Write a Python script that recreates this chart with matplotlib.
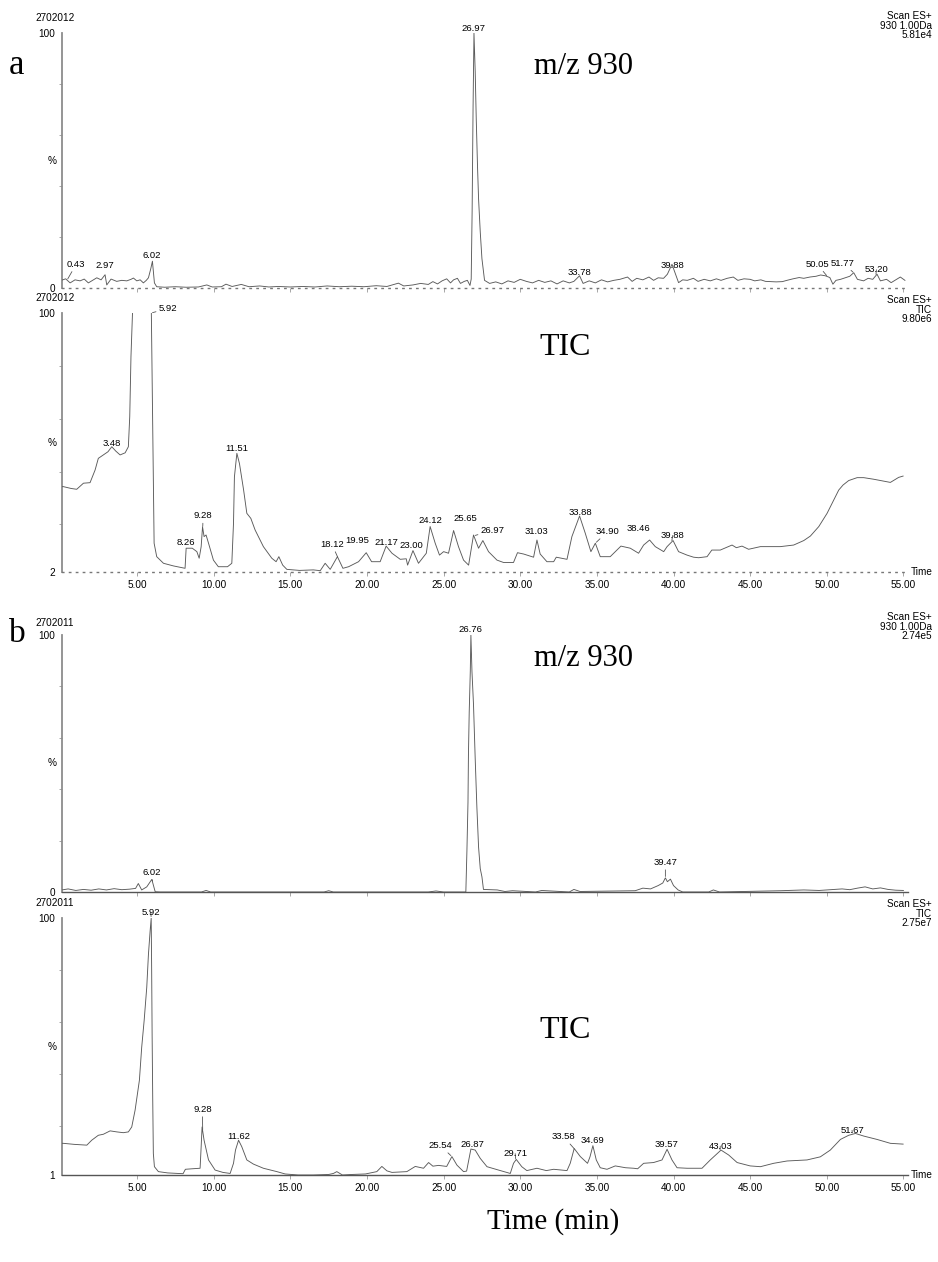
import numpy as np
import matplotlib
matplotlib.use("Agg")
import matplotlib.pyplot as plt

# ---------------- data ----------------
# a) m/z 930 extracted ion chromatogram (% of 5.81e4)
a930_t = [0.05, 0.34, 0.63, 0.95, 1.28, 1.55, 1.82, 2.1, 2.37, 2.65, 2.91, 3.02, 3.3, 3.67, 4.0,
          4.33, 4.6, 4.76, 4.98, 5.2, 5.41, 5.6, 5.74, 5.89, 6.0, 6.13, 6.28, 6.8, 7.5, 8.2, 9.0,
          9.55, 9.9, 10.5, 10.8, 11.2, 11.8, 12.3, 13.0, 13.6, 14.2, 15.0, 15.8, 16.6, 17.4, 18.2,
          19.0, 19.8, 20.6, 21.3, 22.05, 22.4, 23.0, 23.5, 24.0, 24.3, 24.6, 24.9, 25.2, 25.45,
          25.65, 25.9, 26.1, 26.35, 26.55, 26.72, 26.8, 26.86, 26.92, 26.98, 27.06, 27.13, 27.21,
          27.28, 27.39, 27.5, 27.67, 28.0, 28.4, 28.8, 29.2, 29.6, 30.0, 30.4, 30.8, 31.2, 31.6,
          32.0, 32.4, 32.8, 33.2, 33.5, 33.87, 34.1, 34.5, 34.9, 35.3, 35.7, 36.1, 36.5, 37.0,
          37.3, 37.6, 38.0, 38.4, 38.7, 39.0, 39.35, 39.6, 39.9, 40.1, 40.33, 40.6, 40.9, 41.3,
          41.6, 42.0, 42.4, 42.8, 43.1, 43.5, 43.9, 44.2, 44.6, 45.0, 45.3, 45.7, 46.0, 46.3,
          46.7, 47.1, 47.4, 47.8, 48.2, 48.5, 48.9, 49.3, 49.6, 49.9, 50.2, 50.4, 50.6, 50.9,
          51.2, 51.5, 51.76, 52.0, 52.4, 52.7, 53.0, 53.28, 53.5, 53.9, 54.2, 54.5, 54.8, 55.1]
a930_v = [3.0, 3.6, 2.0, 3.2, 2.8, 3.5, 2.0, 3.0, 4.0, 3.2, 5.2, 1.2, 3.5, 2.6, 3.0,
          2.8, 3.4, 3.9, 2.8, 3.2, 2.0, 3.0, 4.0, 7.5, 10.5, 2.0, 0.5, 0.3, 0.5, 0.3, 0.4,
          1.2, 0.4, 0.5, 1.5, 0.6, 1.4, 0.5, 0.8, 0.4, 0.6, 0.4, 0.6, 0.4, 0.8, 0.5,
          0.7, 0.5, 0.9, 0.6, 1.9, 0.8, 1.2, 1.8, 1.4, 2.5, 1.6, 2.8, 3.6, 2.0,
          3.2, 3.8, 1.8, 2.6, 3.0, 1.0, 3.5, 30.0, 70.0, 100.0, 85.0, 66.0, 48.0,
          35.0, 22.0, 11.5, 3.0, 1.8, 2.4, 1.6, 2.8, 2.2, 3.4, 2.6, 2.0, 3.0, 2.2,
          2.8, 1.6, 2.8, 2.0, 2.6, 4.8, 1.8, 2.8, 2.0, 3.2, 2.4, 3.0, 3.4, 4.3,
          2.6, 3.8, 3.2, 4.3, 3.0, 4.0, 3.8, 5.4, 9.3, 6.0, 2.1, 3.2, 3.0, 3.8,
          2.6, 3.4, 2.8, 3.6, 3.0, 3.8, 4.3, 3.0, 3.6, 3.4, 2.8, 3.2, 2.6, 2.5,
          2.4, 2.5, 3.0, 3.6, 4.1, 3.8, 4.3, 4.6, 5.1, 4.8, 4.1, 1.5, 3.0, 3.4,
          4.0, 4.6, 6.0, 3.4, 2.8, 3.8, 3.4, 5.4, 2.8, 3.4, 2.1, 3.2, 4.3, 3.0]
a930_peaks = ["0.43", "2.97", "6.02", "26.97", "33.78", "39.88", "50.05", "51.77", "53.20"]

# a) TIC (% of 9.80e6, axis floor 2 %)
atic_t = [0.1, 0.19, 0.7, 1.06, 1.5, 1.93, 2.26, 2.47, 2.8, 3.1, 3.35, 3.6, 3.89, 4.22, 4.43,
          4.52, 4.6, 4.7, 5.0, 5.6, 5.93, 5.97, 6.04, 6.11, 6.28, 6.72, 7.37, 8.13, 8.2, 8.6,
          8.9, 9.05, 9.18, 9.27, 9.37, 9.5, 9.66, 9.98, 10.3, 10.9, 11.18, 11.29, 11.35, 11.51,
          11.68, 11.95, 12.16, 12.42, 12.7, 13.24, 13.79, 14.07, 14.25, 14.5, 14.77, 15.6, 16.5,
          16.95, 17.27, 17.6, 18.07, 18.43, 18.8, 19.45, 19.95, 20.3, 20.86, 21.25, 21.63, 22.17,
          22.56, 22.65, 23.0, 23.36, 23.87, 24.12, 24.45, 24.73, 25.0, 25.32, 25.65, 25.97, 26.3,
          26.63, 26.95, 27.28, 27.56, 27.93, 28.48, 28.91, 29.56, 29.82, 30.22, 30.87, 31.09,
          31.3, 31.74, 32.18, 32.35, 33.05, 33.37, 33.87, 34.24, 34.61, 34.9, 35.22, 35.87,
          36.57, 37.18, 37.72, 38.05, 38.44, 38.81, 39.36, 39.58, 39.97, 40.33, 40.88, 41.31,
          41.64, 42.19, 42.5, 43.05, 43.82, 44.1, 44.47, 44.9, 45.67, 46.97, 47.84, 48.5, 48.93,
          49.48, 50.02, 50.45, 50.78, 51.06, 51.43, 51.98, 52.41, 53.06, 53.71, 54.15, 54.69,
          54.98]
atic_v = [34.3, 34.3, 33.6, 33.3, 35.6, 35.8, 40.6, 45.0, 46.3, 47.5, 49.4, 47.8, 46.3, 47.1, 49.4,
          60.8, 83.5, 100.0, 115.0, 115.0, 100.0, 80.0, 45.0, 12.9, 7.8, 5.3, 4.3, 3.4, 11.0, 11.0,
          9.7, 7.2, 11.6, 19.1, 15.4, 16.0, 12.9, 6.5, 4.0, 4.0, 5.3, 20.4, 38.0, 46.9,
          43.0, 33.0, 24.2, 22.3, 17.9, 11.6, 7.2, 5.9, 7.8, 4.6, 3.0, 2.6, 2.8,
          2.5, 5.3, 3.0, 7.8, 3.4, 4.0, 5.9, 9.3, 5.9, 5.9, 11.8, 9.1, 6.8,
          7.0, 4.6, 10.1, 5.3, 9.1, 19.2, 12.9, 8.4, 9.7, 9.1, 17.7, 11.6, 6.5,
          4.6, 16.0, 11.0, 13.9, 9.7, 6.5, 5.6, 5.6, 9.3, 8.8, 7.6, 14.1,
          8.8, 5.9, 5.9, 7.6, 6.8, 15.4, 23.2, 16.7, 9.7, 12.9, 7.8, 7.8,
          11.8, 11.0, 9.1, 12.2, 14.1, 11.6, 9.7, 11.6, 13.9, 9.7, 8.4, 7.6,
          7.4, 7.8, 10.3, 10.3, 12.2, 11.2, 11.8, 10.6, 11.6, 11.6, 12.2, 13.9, 15.6,
          19.2, 24.2, 29.2, 33.0, 34.9, 36.6, 37.7, 37.7, 37.1, 36.4, 35.9, 37.8,
          38.3]
atic_peaks = ["5.92", "3.48", "11.51", "9.28", "8.26", "18.12", "19.95", "21.17", "23.00",
              "24.12", "25.65", "26.97", "31.03", "33.88", "34.90", "38.46", "39.88"]

# b) m/z 930 extracted ion chromatogram (% of 2.74e5)
b930_t = [0.1, 0.5, 1.0, 1.5, 2.0, 2.5, 3.0, 3.5, 4.0, 4.5, 4.9, 5.08, 5.3, 5.63, 5.96, 6.18,
          6.5, 9.2, 9.5, 9.8, 17.2, 17.5, 17.8, 24.0, 24.5, 25.0, 26.45, 26.52, 26.59, 26.62,
          26.67, 26.74, 26.78, 26.85, 26.95, 27.06, 27.17, 27.28, 27.39, 27.5, 27.6, 28.5, 29.0,
          29.5, 31.0, 31.4, 33.2, 33.5, 33.9, 37.5, 38.0, 38.5, 39.0, 39.3, 39.47, 39.6, 39.8,
          40.0, 40.3, 40.6, 42.3, 42.6, 43.0, 47.0, 48.5, 49.5, 50.5, 51.0, 51.5, 52.0, 52.5,
          53.0, 53.5, 54.0, 54.5, 55.0]
b930_v = [0.8, 1.2, 0.6, 1.0, 0.7, 1.2, 0.8, 1.3, 0.9, 1.1, 1.4, 3.3, 0.8, 2.0, 4.9, 0.1,
          0.0, 0.0, 0.6, 0.0, 0.0, 0.5, 0.0, 0.0, 0.4, 0.0, 0.0, 16.0, 35.0, 53.6,
          70.0, 85.7, 100.0, 85.7, 72.9, 52.0, 33.0, 17.5, 9.1, 5.9, 1.0, 0.8, 0.2,
          0.5, 0.0, 0.6, 0.0, 1.0, 0.2, 0.5, 1.5, 1.2, 2.5, 3.5, 5.5, 4.0, 5.0,
          2.5, 0.8, 0.0, 0.0, 0.8, 0.0, 0.5, 0.8, 0.6, 1.0, 1.2, 0.9, 1.5, 2.0,
          1.2, 1.6, 1.0, 0.7, 0.6]
b930_peaks = ["26.76", "6.02", "39.47"]

# b) TIC (% of 2.75e7, axis floor 1 %)
btic_t = [0.1, 0.19, 0.9, 1.72, 2.04, 2.47, 2.8, 3.24, 3.68, 4.1, 4.43, 4.65, 4.87, 5.15, 5.3,
          5.46, 5.63, 5.74, 5.85, 5.92, 5.95, 5.98, 6.02, 6.06, 6.13, 6.39, 7.0, 8.0, 8.15, 8.6,
          9.11, 9.18, 9.24, 9.37, 9.66, 10.09, 10.6, 11.07, 11.29, 11.42, 11.62, 11.83, 12.16,
          12.59, 13.24, 14.12, 14.66, 15.5, 16.5, 17.5, 17.81, 18.03, 18.4, 19.0, 19.9, 20.64,
          20.97, 21.3, 21.63, 22.6, 23.15, 23.69, 24.02, 24.3, 24.67, 25.2, 25.54, 25.87, 26.3,
          26.5, 26.78, 27.06, 27.39, 27.83, 28.7, 29.35, 29.56, 29.74, 30.1, 30.43, 31.09, 31.7,
          32.18, 33.05, 33.26, 33.52, 33.92, 34.39, 34.55, 34.74, 34.96, 35.22, 35.66, 36.2,
          36.87, 37.4, 37.66, 38.05, 38.7, 39.25, 39.58, 39.9, 40.23, 40.88, 40.99, 41.86, 42.4,
          43.1, 43.6, 44.15, 45.0, 45.67, 46.53, 47.41, 48.71, 49.58, 50.23, 50.89, 51.43, 51.87,
          52.41, 53.28, 54.15, 54.98]
btic_v = [13.2, 13.2, 12.8, 12.5, 14.4, 16.3, 16.7, 18.0, 17.6, 17.3, 17.6, 19.5, 26.0, 37.5, 50.2,
          60.5, 73.3, 86.0, 95.0, 100.0, 80.0, 55.0, 30.0, 9.3, 4.2, 2.3, 1.8, 1.5, 3.2, 3.4,
          3.6, 11.9, 19.5, 14.4, 6.8, 2.9, 2.0, 1.6, 5.5, 10.6, 14.4, 11.9, 6.8,
          5.2, 3.6, 2.3, 1.4, 1.0, 1.0, 1.2, 1.6, 2.3, 1.0, 1.2, 1.4, 2.3,
          4.3, 2.6, 2.0, 2.3, 4.3, 3.6, 5.8, 4.4, 4.7, 4.3, 8.1, 4.8, 2.3,
          2.5, 11.0, 10.6, 7.4, 4.2, 2.7, 1.6, 5.5, 7.0, 4.2, 2.7, 3.6, 2.7,
          3.2, 2.7, 5.5, 11.2, 8.1, 5.5, 8.0, 12.3, 6.8, 3.8, 3.2, 4.5,
          3.8, 3.6, 3.4, 5.5, 5.8, 6.8, 10.9, 6.8, 3.8, 3.6, 3.6, 3.6, 6.8,
          10.6, 8.7, 5.8, 4.5, 4.2, 5.5, 6.4, 6.8, 8.0, 10.6, 14.7, 16.3, 17.0,
          16.0, 14.7, 13.2, 12.9]
btic_peaks = ["5.92", "9.28", "11.62", "25.54", "26.87", "29.71", "33.58", "34.69", "39.57",
              "43.03", "51.67"]

x_ticks = [5, 10, 15, 20, 25, 30, 35, 40, 45, 50, 55]

# ---------------- layout ----------------
W, H = 938, 1262
fig = plt.figure(figsize=(W / 100, H / 100), dpi=100)
SANS = "Liberation Sans"
SERIF = "Liberation Serif"
SMALL = 7.2
TRACE = "#5a5a5a"


def px(x, y):
    return x / W, 1 - y / H


def make_axes(top, bottom):
    return fig.add_axes([62 / W, 1 - bottom / H, (908 - 62) / W, (bottom - top) / H])


panels = [
    dict(t=a930_t, v=a930_v, peaks=a930_peaks, ymin=0, top=33, bottom=288, dotted=True,
         xlabels=False, run="2702012", run_y=18, trace="930 1.00Da", scale="5.81e4",
         head_y=16, big="m/z 930", big_xy=(583, 66), big_fs=22,
         label_pos=[(1.02, 7.5), (2.91, 7.0), (5.96, 10.9), (26.95, 100.0), (33.87, 4.3),
                    (39.9, 7.2), (49.37, 7.6), (51.06, 8.0), (53.24, 5.4)],
         leaders=["0.43", "50.05", "51.77", "53.20"]),
    dict(t=atic_t, v=atic_v, peaks=atic_peaks, ymin=2, top=313, bottom=572, dotted=True,
         xlabels=True, run="2702012", run_y=298, trace="TIC", scale="9.80e6",
         head_y=300, big="TIC", big_xy=(565, 348), big_fs=23,
         label_pos=[(7.02, 100.0), (3.37, 48.9), (11.53, 47.0), (9.31, 21.5), (8.2, 11.5),
                    (17.72, 10.7), (19.36, 12.2), (21.25, 11.5), (22.88, 10.3), (24.12, 19.8),
                    (26.41, 20.5), (28.2, 16.0), (31.04, 15.6), (33.92, 22.8), (35.7, 15.6),
                    (37.72, 16.8), (39.94, 14.1)],
         leaders=["5.92", "9.28", "18.12", "26.97", "34.90", "39.88"]),
    dict(t=b930_t, v=b930_v, peaks=b930_peaks, ymin=0, top=635, bottom=892, dotted=False,
         xlabels=False, run="2702011", run_y=623, trace="930 1.00Da", scale="2.74e5",
         head_y=617, big="m/z 930", big_xy=(583, 659), big_fs=22,
         label_pos=[(26.78, 100.5), (5.96, 5.8), (39.47, 9.7)],
         leaders=["6.02", "39.47"]),
    dict(t=btic_t, v=btic_v, peaks=btic_peaks, ymin=1, top=918, bottom=1175, dotted=False,
         xlabels=True, run="2702011", run_y=903, trace="TIC", scale="2.75e7",
         head_y=904, big="TIC", big_xy=(565, 1030), big_fs=23,
         label_pos=[(5.89, 100.5), (9.26, 24.5), (11.61, 14.2), (24.78, 10.6), (26.89, 11.0),
                    (29.67, 7.5), (32.83, 14.0), (34.68, 12.7), (39.57, 11.0), (43.05, 10.4),
                    (51.65, 16.5)],
         leaders=["5.92", "9.28", "25.54", "33.58", "29.71", "43.03", "51.67"]),
]

for p in panels:
    ax = make_axes(p["top"], p["bottom"])
    ax.set_xlim(0.1, 55.3)
    ax.set_ylim(p["ymin"], 100)
    t = np.asarray(p["t"], dtype=float)
    v = np.asarray(p["v"], dtype=float)
    ax.plot(t, v, color=TRACE, lw=0.65, solid_joinstyle="round", zorder=3)

    for s in ("top", "right"):
        ax.spines[s].set_visible(False)
    ax.spines["left"].set_color("#8c8c8c")
    ax.spines["left"].set_linewidth(1.3)
    if p["dotted"]:
        ax.spines["bottom"].set_linestyle((0, (1, 4)))
        ax.spines["bottom"].set_color("#777777")
        ax.spines["bottom"].set_linewidth(1.0)
    else:
        ax.spines["bottom"].set_color("#555555")
        ax.spines["bottom"].set_linewidth(1.0)

    ax.set_xticks(x_ticks)
    if p["xlabels"]:
        ax.set_xticklabels([f"{x:.2f}" for x in x_ticks], fontsize=SMALL, family=SANS)
        ax.text(1.003, 0.0, "Time", transform=ax.transAxes, ha="left", va="center",
                fontsize=SMALL, family=SANS)
    else:
        ax.set_xticklabels([])
    ax.tick_params(axis="x", length=3, width=0.6, color="#999999", pad=3)

    ax.set_yticks([p["ymin"], 100])
    ax.set_yticklabels([str(p["ymin"]), "100"], fontsize=SMALL, family=SANS)
    ax.set_yticks([20, 40, 60, 80], minor=True)
    ax.tick_params(axis="y", which="major", length=0, pad=5)
    ax.tick_params(axis="y", which="minor", length=2.5, width=0.6, color="#999999")
    ax.text(-0.0065, 0.5, "%", transform=ax.transAxes, ha="right", va="center",
            fontsize=SMALL, family=SANS)

    # peak labels
    for lab, (lx, ly) in zip(p["peaks"], p["label_pos"]):
        pt = float(lab)
        pv = float(np.interp(pt, t, v))
        if lab in p["leaders"]:
            ax.annotate(lab, xy=(pt, min(pv, 100)), xytext=(lx, ly), ha="center", va="bottom",
                        fontsize=6.8, family=SANS, annotation_clip=False,
                        arrowprops=dict(arrowstyle="-", color="#555555", lw=0.6,
                                        shrinkA=0, shrinkB=1))
        else:
            ax.text(lx, ly, lab, ha="center", va="bottom", fontsize=6.8, family=SANS,
                    clip_on=False)

    # header texts
    fig.text(*px(55, p["run_y"]), p["run"], ha="center", va="center", fontsize=SMALL,
             family=SANS)
    for i, line in enumerate(["Scan ES+", p["trace"], p["scale"]]):
        fig.text(*px(932, p["head_y"] + 9.7 * i), line, ha="right", va="center",
                 fontsize=SMALL, family=SANS)
    fig.text(*px(*p["big_xy"]), p["big"], ha="center", va="center", fontsize=p["big_fs"],
             family=SERIF)

fig.text(*px(17, 66), "a", ha="center", va="center", fontsize=25, family=SERIF)
fig.text(*px(17, 634), "b", ha="center", va="center", fontsize=24, family=SERIF)
fig.text(*px(553, 1222), "Time (min)", ha="center", va="center", fontsize=21, family=SERIF)

fig.savefig("out.png", dpi=100, facecolor="white")
